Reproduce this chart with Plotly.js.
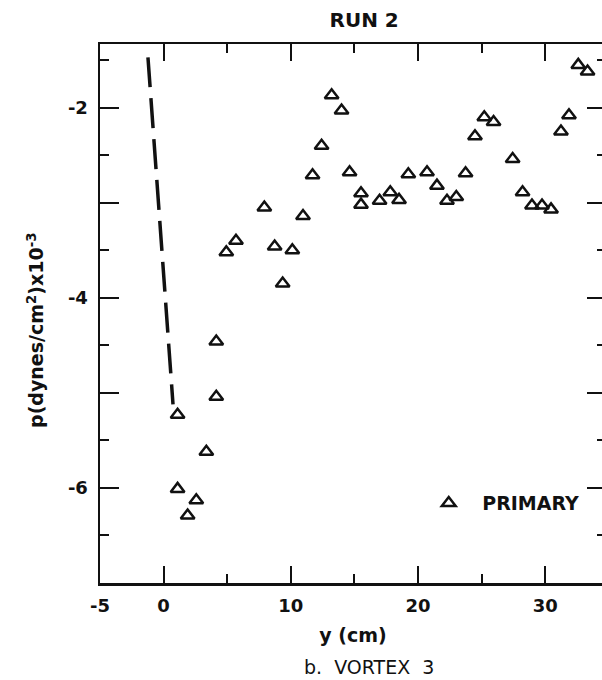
<!DOCTYPE html>
<html>
<head>
<meta charset="utf-8">
<script src="https://cdn.plot.ly/plotly-3.0.1.min.js"></script>
<style>
html,body{margin:0;padding:0;background:#fff;overflow:hidden;width:602px;height:680px;}
#chart{width:606px;height:680px;}
</style>
</head>
<body>
<div id="chart"></div>
<script>
// Primary measurements: y (cm) and p (dynes/cm^2) x 10^-3
const primaryY = [1.10, 1.10, 1.89, 2.57, 3.36, 4.14, 4.14, 4.93, 5.69, 7.92, 8.73, 9.36, 10.12, 10.96, 11.71, 12.42, 13.21, 13.99, 14.62, 15.52, 15.52, 16.98, 17.82, 18.51, 19.24, 20.71, 21.49, 22.28, 23.01, 23.74, 24.48, 25.21, 25.94, 27.44, 28.22, 28.96, 29.75, 30.46, 31.24, 31.87, 32.60, 33.33];
const primaryP = [-6.01, -5.23, -6.29, -6.13, -5.62, -5.04, -4.46, -3.52, -3.40, -3.05, -3.46, -3.85, -3.50, -3.14, -2.71, -2.40, -1.87, -2.03, -2.68, -2.90, -3.02, -2.98, -2.89, -2.97, -2.70, -2.68, -2.82, -2.98, -2.94, -2.69, -2.30, -2.10, -2.15, -2.54, -2.89, -3.03, -3.03, -3.07, -2.25, -2.08, -1.55, -1.62];

// Dashed reference curve
const dashY = [-1.23, -0.25, 0.74];
const dashP = [-1.47, -3.30, -5.12];

// Tick labels
const xTickVals = [-5, 0, 10, 20, 30];
const xTickText = ['-5', '0', '10', '20', '30'];
const yTickVals = [-6, -4, -2];
const yTickText = ['-6', '-4', '-2'];
const yUnlabeledVals = [-5, -3];

const FONT = 'DejaVu Sans, Liberation Sans, Arial, sans-serif';
const INK = '#111';

const traces = [
  {
    x: dashY, y: dashP, type: 'scatter', mode: 'lines',
    line: {color: INK, width: 3.5, dash: '30px,11px'},
    showlegend: false, hoverinfo: 'skip'
  },
  {
    x: primaryY, y: primaryP, type: 'scatter', mode: 'markers',
    name: 'PRIMARY',
    marker: {symbol: 'triangle-up-open', size: 12, color: INK, line: {color: INK, width: 2.5}}
  }
];

const axisCommon = {
  showline: true, linecolor: INK, linewidth: 2.5, mirror: 'ticks',
  ticks: 'inside', tickcolor: INK, tickwidth: 2,
  showgrid: false, zeroline: false,
  tickfont: {family: FONT, size: 18, color: INK, weight: 'bold'}
};

const layout = {
  width: 606, height: 680,
  margin: {l: 100, r: 0, t: 44, b: 97},
  paper_bgcolor: '#fff', plot_bgcolor: '#fff',
  title: {
    text: 'RUN 2', x: 0.522, xref: 'paper', xanchor: 'center',
    y: 0.970, yref: 'container', yanchor: 'middle',
    font: {family: FONT, size: 20, color: INK, weight: 'bold'}
  },
  xaxis: Object.assign({}, axisCommon, {
    range: [-5, 34.78],
    tickmode: 'array', tickvals: xTickVals, ticktext: xTickText,
    ticklen: 17,
    minor: {dtick: 5, tick0: 0, ticklen: 9, tickwidth: 2, tickcolor: INK, ticks: 'inside'},
    ticklabelstandoff: 5,
    title: {text: 'y (cm)', standoff: 14, font: {family: FONT, size: 19, color: INK, weight: 'bold'}}
  }),
  yaxis: Object.assign({}, axisCommon, {
    range: [-7, -1.33],
    tickmode: 'array', tickvals: yTickVals, ticktext: yTickText,
    ticklen: 19,
    minor: {dtick: 0.5, tick0: 0, ticklen: 9, tickwidth: 2, tickcolor: INK, ticks: 'inside'},
    ticklabelstandoff: 6
  }),
  yaxis2: {
    overlaying: 'y', side: 'left', range: [-7, -1.33],
    tickmode: 'array', tickvals: yUnlabeledVals, showticklabels: false,
    ticks: 'inside', ticklen: 19, tickwidth: 2, tickcolor: INK,
    showline: true, linecolor: INK, linewidth: 2.5, mirror: 'ticks',
    showgrid: false, zeroline: false
  },
  showlegend: true,
  legend: {
    x: 0.623, xanchor: 'left', y: 0.148, yanchor: 'middle',
    bgcolor: 'rgba(0,0,0,0)', borderwidth: 0,
    itemwidth: 57,
    font: {family: FONT, size: 19, color: INK, weight: 'bold'}
  },
  annotations: [
    {
      text: 'p(dynes/cm<sup>2</sup>)x10<sup>-3</sup>', textangle: -90,
      xref: 'paper', yref: 'paper', x: -0.127, y: 0.469,
      xanchor: 'center', yanchor: 'middle', showarrow: false,
      font: {family: FONT, size: 19, color: INK, weight: 'bold'}
    },
    {
      text: 'b.  VORTEX  3',
      xref: 'paper', yref: 'paper', x: 0.532, y: -0.156,
      xanchor: 'center', yanchor: 'middle', showarrow: false,
      font: {family: FONT, size: 19, color: INK}
    }
  ]
};

// an empty helper trace binds yaxis2 so its unlabeled ticks are drawn
traces.push({x: [], y: [], yaxis: 'y2', type: 'scatter', mode: 'markers', showlegend: false, hoverinfo: 'skip'});

Plotly.newPlot('chart', traces, layout, {displayModeBar: false, staticPlot: true});
</script>
</body>
</html>
